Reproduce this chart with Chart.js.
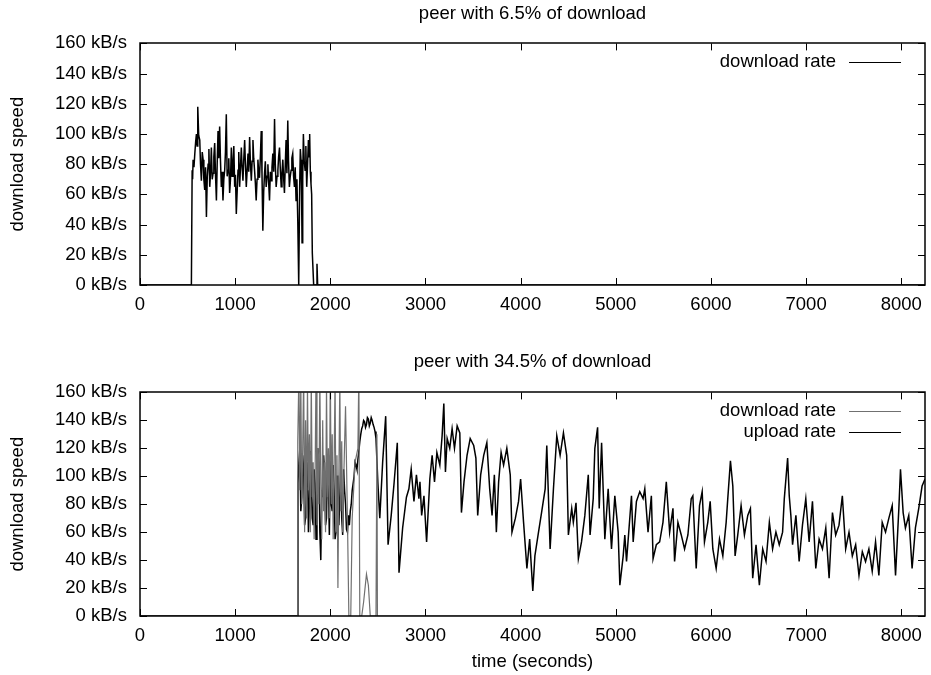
<!DOCTYPE html>
<html>
<head>
<meta charset="utf-8">
<script src="https://cdn.jsdelivr.net/npm/chart.js@4"></script>
<style>
  html, body { margin: 0; padding: 0; background: #fff; }
  #wrap { position: relative; width: 931px; height: 675px; }
  #topChart { position: absolute; left: 0; top: 0; }
  #bottomChart { position: absolute; left: 0; top: 330px; }
</style>
</head>
<body>
<div id="wrap">
  <canvas id="topChart" width="931" height="320"></canvas>
  <canvas id="bottomChart" width="931" height="345"></canvas>
</div>
<script>
const topTitle = 'peer with 6.5% of download';
const bottomTitle = 'peer with 34.5% of download';
const xTitle = 'time (seconds)';
const yTitle = 'download speed';
const xTicks = [0, 1000, 2000, 3000, 4000, 5000, 6000, 7000, 8000];
const yTicks = [0, 20, 40, 60, 80, 100, 120, 140, 160];
const xMax = 8250;

// top peer: download rate (seconds, kB/s)
const topTime = [0, 540, 548, 553, 558, 567, 576, 585, 593, 600, 607, 617, 628, 636, 645, 654, 663, 671, 680, 689,
  698, 707, 716, 724, 733, 741, 750, 759, 768, 776, 785, 794, 803, 811, 820, 828, 837, 846, 855, 863,
  872, 881, 890, 898, 907, 916, 925, 933, 942, 951, 960, 968, 977, 986, 995, 1003, 1012, 1021, 1030, 1038,
  1047, 1056, 1065, 1073, 1082, 1091, 1100, 1108, 1117, 1126, 1135, 1143, 1152, 1161, 1170, 1178, 1187, 1195, 1204, 1212,
  1221, 1230, 1239, 1247, 1256, 1265, 1274, 1282, 1291, 1300, 1309, 1317, 1326, 1335, 1344, 1352, 1361, 1370, 1379, 1387,
  1396, 1405, 1414, 1422, 1431, 1440, 1449, 1457, 1466, 1475, 1484, 1492, 1501, 1510, 1518, 1527, 1535, 1544, 1553, 1561,
  1570, 1579, 1588, 1596, 1605, 1614, 1623, 1631, 1640, 1649, 1658, 1668, 1678, 1685, 1692, 1698, 1703, 1710, 1717, 1726,
  1735, 1743, 1752, 1761, 1770, 1777, 1783, 1790, 1797, 1804, 1811, 1825, 1850, 1860, 1867, 8250];
const topRate = [0, 0, 76, 70, 83, 78, 87, 95, 100, 92, 118, 99, 96, 80, 69, 88, 83, 70, 63, 78,
  45, 72, 80, 90, 65, 74, 91, 70, 74, 85, 94, 72, 56, 80, 102, 84, 105, 82, 65, 75,
  56, 70, 76, 88, 113, 72, 76, 84, 61, 70, 91, 72, 80, 92, 65, 73, 47, 62, 76, 88,
  65, 78, 91, 78, 69, 84, 96, 80, 65, 76, 87, 75, 98, 80, 69, 82, 96, 84, 76, 68,
  56, 70, 83, 75, 71, 85, 102, 74, 36, 62, 74, 82, 65, 72, 80, 68, 56, 75, 69, 78,
  87, 75, 110, 80, 65, 72, 76, 85, 91, 76, 65, 74, 83, 70, 61, 80, 96, 74, 109, 82,
  65, 72, 76, 84, 87, 72, 65, 78, 56, 70, 43, 0, 65, 90, 83, 60, 28, 70, 100, 82,
  76, 92, 65, 80, 96, 85, 100, 75, 67, 60, 21, 0, 0, 14, 0, 0];

// bottom peer: download rate
const dlTime = [0, 1650, 1658, 1670, 1680, 1690, 1700, 1710, 1720, 1730, 1740, 1750, 1760, 1770, 1780, 1790, 1800,
  1810, 1820, 1830, 1840, 1850, 1860, 1870, 1880, 1890, 1900, 1910, 1920, 1930, 1940, 1950, 1960, 1970, 1980, 1990,
  2000, 2010, 2020, 2030, 2040, 2050, 2060, 2070, 2080, 2090, 2100, 2110, 2120, 2130, 2140, 2160, 2180, 2195, 2215,
  2230, 2260, 2290, 2300, 2310, 2330, 2350, 2380, 2400, 2420, 2440, 2460, 2480, 2490, 2495, 8250];
const dlRate = [0, 0, 125, 175, 90, 170, 80, 120, 175, 60, 140, 70, 165, 90, 130, 60, 170,
  85, 110, 55, 100, 175, 65, 120, 80, 170, 95, 55, 140, 75, 110, 60, 165, 85, 120, 70,
  175, 80, 130, 55, 110, 170, 60, 115, 20, 100, 170, 75, 125, 60, 95, 150, 70, 0, 0,
  70, 110, 120, 175, 0, 0, 10, 30, 22, 0, 0, 0, 0, 130, 0, 0];

// bottom peer: upload rate
const upTime = [0, 1650, 1660, 1670, 1680, 1690, 1700, 1710, 1720, 1730, 1740, 1750, 1760, 1770, 1780, 1790, 1800,
  1810, 1820, 1830, 1840, 1850, 1860, 1870, 1880, 1890, 1900, 1910, 1920, 1930, 1940, 1950, 1960, 1970, 1980, 1990,
  2000, 2010, 2020, 2030, 2040, 2050, 2060, 2070, 2080, 2090, 2100, 2110, 2120, 2130, 2140, 2150, 2160, 2170, 2180,
  2190, 2200, 2210, 2220, 2230, 2240, 2250, 2260, 2270, 2280, 2290, 2300, 2310, 2320, 2330, 2340, 2350, 2360, 2370,
  2380, 2390, 2400, 2410, 2420, 2430, 2440, 2450, 2460, 2470, 2480, 2500, 2520, 2550, 2582, 2607, 2640, 2670, 2704,
  2722, 2760, 2800, 2826, 2850, 2879, 2905, 2931, 2942, 2960, 2984, 3012, 3046, 3070, 3095, 3120, 3151, 3175, 3193,
  3210, 3228, 3255, 3280, 3305, 3333, 3361, 3378, 3405, 3437, 3470, 3507, 3530, 3549, 3580, 3612, 3645, 3675, 3700,
  3724, 3745, 3769, 3795, 3821, 3855, 3891, 3909, 3945, 3978, 4000, 4031, 4066, 4095, 4128, 4150, 4188, 4220, 4258,
  4275, 4310, 4345, 4380, 4415, 4450, 4484, 4502, 4537, 4554, 4582, 4607, 4640, 4675, 4711, 4730, 4763, 4780, 4809,
  4826, 4851, 4885, 4920, 4955, 4990, 5025, 5043, 5078, 5095, 5113, 5165, 5183, 5217, 5252, 5287, 5305, 5339, 5374,
  5392, 5426, 5461, 5496, 5531, 5566, 5601, 5618, 5653, 5688, 5723, 5758, 5793, 5810, 5845, 5880, 5908, 5932, 5967,
  5992, 6020, 6055, 6090, 6125, 6160, 6177, 6205, 6230, 6254, 6282, 6317, 6352, 6387, 6415, 6439, 6474, 6509, 6544,
  6579, 6614, 6648, 6683, 6718, 6753, 6771, 6806, 6823, 6840, 6858, 6893, 6927, 6962, 6997, 7032, 7067, 7102, 7137,
  7172, 7207, 7242, 7277, 7311, 7346, 7381, 7416, 7451, 7486, 7521, 7556, 7591, 7625, 7660, 7695, 7730, 7765, 7800,
  7835, 7870, 7905, 7940, 7975, 7992, 8020, 8044, 8079, 8114, 8149, 8184, 8219, 8250];
const upRate = [0, 0, 95, 110, 120, 75, 85, 115, 105, 65, 70, 100, 110, 60, 80, 118, 100,
  70, 65, 105, 95, 55, 75, 120, 110, 60, 40, 90, 85, 115, 100, 65, 70, 112, 95, 58,
  115, 80, 75, 108, 90, 55, 60, 100, 100, 65, 85, 110, 70, 58, 105, 90, 80, 62, 60,
  72, 65, 75, 80, 90, 95, 100, 110, 108, 105, 112, 118, 125, 130, 134, 136, 140, 139, 135,
  137, 142, 141, 136, 138, 142, 140, 137, 135, 132, 127, 95, 70, 110, 143, 51, 72, 95, 124,
  31, 63, 85, 91, 105, 82, 101, 84, 96, 72, 86, 53, 98, 115, 96, 117, 108, 129, 152,
  103, 127, 120, 134, 120, 136, 131, 74, 96, 115, 127, 122, 113, 72, 101, 115, 124, 91, 72,
  101, 60, 96, 117, 108, 120, 101, 60, 70, 82, 98, 67, 34, 55, 18, 43, 60, 74, 91,
  122, 48, 91, 129, 115, 131, 115, 58, 77, 67, 81, 41, 53, 72, 101, 58, 84, 120, 135,
  77, 124, 55, 91, 48, 86, 60, 22, 43, 58, 39, 86, 53, 82, 89, 84, 91, 60, 86,
  41, 51, 53, 67, 96, 60, 77, 39, 67, 58, 48, 58, 84, 86, 34, 79, 89, 53, 67,
  82, 48, 34, 55, 43, 67, 84, 111, 93, 43, 58, 79, 58, 72, 77, 27, 51, 22, 48,
  39, 67, 48, 60, 51, 60, 84, 113, 86, 72, 51, 72, 39, 65, 84, 53, 82, 34, 55,
  48, 63, 27, 74, 58, 65, 86, 48, 60, 43, 51, 29, 46, 39, 48, 32, 53, 29, 67,
  60, 70, 79, 29, 77, 105, 74, 63, 72, 34, 63, 77, 93, 98];

Chart.defaults.font.family = '"Liberation Sans", Arial, Helvetica, sans-serif';
Chart.defaults.font.size = 18.5;
Chart.defaults.color = '#000';

function toPoints(times, vals) {
  return times.map((t, i) => ({ x: t, y: vals[i] }));
}

// gnuplot style box with inward ticks on all four sides
const framePlugin = {
  id: 'frame',
  afterDatasetsDraw(chart) {
    const ctx = chart.ctx;
    const a = chart.chartArea;
    const xs = chart.scales.x, ys = chart.scales.y;
    const tl = 7;
    ctx.save();
    ctx.strokeStyle = '#000';
    ctx.lineWidth = 1;
    ctx.beginPath();
    xTicks.forEach(v => {
      const px = Math.round(xs.getPixelForValue(v)) + 0.5;
      ctx.moveTo(px, a.bottom); ctx.lineTo(px, a.bottom - tl);
      ctx.moveTo(px, a.top); ctx.lineTo(px, a.top + tl);
    });
    yTicks.forEach(v => {
      const py = Math.round(ys.getPixelForValue(v)) + 0.5;
      ctx.moveTo(a.left, py); ctx.lineTo(a.left + tl, py);
      ctx.moveTo(a.right, py); ctx.lineTo(a.right - tl, py);
    });
    ctx.stroke();
    ctx.lineWidth = 1.5;
    ctx.strokeRect(Math.round(a.left), Math.round(a.top), Math.round(a.right - a.left), Math.round(a.bottom - a.top));
    ctx.restore();
  }
};

// key in the top right corner: text then a line sample
const keyPlugin = {
  id: 'key',
  afterDatasetsDraw(chart) {
    const ctx = chart.ctx;
    const a = chart.chartArea;
    ctx.save();
    ctx.font = '18.5px ' + Chart.defaults.font.family;
    ctx.textAlign = 'right';
    ctx.textBaseline = 'middle';
    chart.data.datasets.forEach((ds, i) => {
      const y = a.top + 18.5 + i * 21.5;
      ctx.fillStyle = '#000';
      ctx.fillText(ds.label, a.right - 89, y);
      ctx.strokeStyle = ds.borderColor;
      ctx.lineWidth = 1;
      ctx.beginPath();
      ctx.moveTo(a.right - 76, Math.round(y) + 0.5);
      ctx.lineTo(a.right - 24, Math.round(y) + 0.5);
      ctx.stroke();
    });
    ctx.restore();
  }
};

function makeOptions(title, titlePad, showXTitle, xAxisHeight) {
  return {
    responsive: false,
    animation: false,
    layout: { padding: { left: 0, right: 3, top: 0, bottom: 0 } },
    plugins: {
      legend: { display: false },
      tooltip: { enabled: false },
      title: { display: true, fullSize: false, text: title, font: { size: 18.5, weight: 'normal' }, padding: titlePad }
    },
    scales: {
      x: {
        type: 'linear', min: 0, max: xMax,
        afterBuildTicks: s => { s.ticks = xTicks.map(v => ({ value: v })); },
        afterFit: s => { s.height = xAxisHeight; },
        grid: { display: false, drawTicks: false },
        border: { display: false },
        ticks: { padding: 9, maxRotation: 0, autoSkip: false, callback: v => String(v) },
        title: { display: showXTitle, text: xTitle, padding: { top: 4, bottom: 2 } }
      },
      y: {
        min: 0, max: 160,
        afterBuildTicks: s => { s.ticks = yTicks.map(v => ({ value: v })); },
        afterFit: s => { s.width = 140; },
        grid: { display: false, drawTicks: false },
        border: { display: false },
        ticks: { padding: 13, autoSkip: false, callback: v => v + ' kB/s' },
        title: { display: true, text: yTitle, padding: { top: 7, bottom: 0 } }
      }
    }
  };
}

new Chart(document.getElementById('topChart'), {
  type: 'line',
  data: {
    datasets: [{
      label: 'download rate', data: toPoints(topTime, topRate),
      borderColor: '#000', borderWidth: 1.5, pointRadius: 0, tension: 0, fill: false
    }]
  },
  options: makeOptions(topTitle, { top: 3, bottom: 18.2 }, false, 35),
  plugins: [framePlugin, keyPlugin]
});

new Chart(document.getElementById('bottomChart'), {
  type: 'line',
  data: {
    datasets: [{
      label: 'download rate', data: toPoints(dlTime, dlRate),
      borderColor: '#707070', borderWidth: 1.2, pointRadius: 0, tension: 0, fill: false
    }, {
      label: 'upload rate', data: toPoints(upTime, upRate),
      borderColor: '#000', borderWidth: 1.5, pointRadius: 0, tension: 0, fill: false
    }]
  },
  options: makeOptions(bottomTitle, { top: 21, bottom: 19.2 }, true, 59),
  plugins: [framePlugin, keyPlugin]
});
</script>
</body>
</html>
